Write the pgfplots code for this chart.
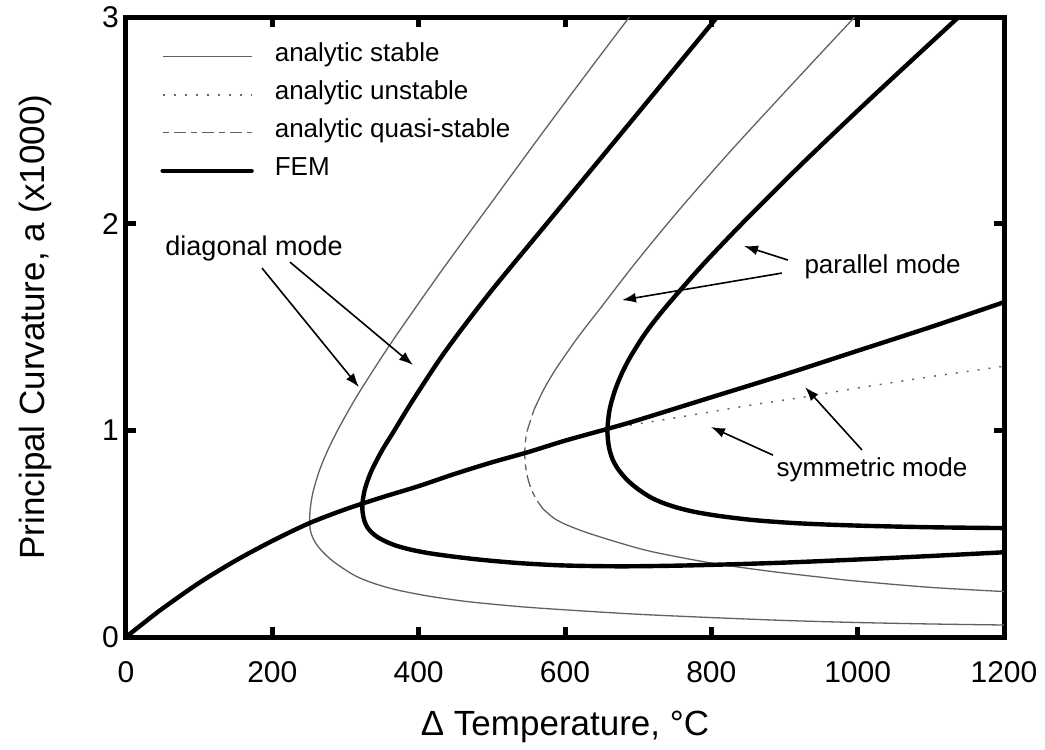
\documentclass[border=0pt]{standalone}
\usepackage{fontspec}
\setmainfont{Liberation Sans}
\usepackage{pgfplots}
\pgfplotsset{compat=1.18}
\usetikzlibrary{arrows.meta}
\tikzset{
 anstable/.style={line width=0.65pt, black!62, line join=round},
 anunstable/.style={line width=0.75pt, black!60, dash pattern=on 1pt off 4.5pt},
 anquasi/.style={line width=0.65pt, black!62, dash pattern=on 3pt off 2.5pt on 6pt off 2.5pt},
 fem/.style={line width=2.2pt, black, line join=round, line cap=round},
 ann/.style={line width=0.8pt, black, -{Latex[length=7pt,width=5pt]}},
}
\begin{document}
\begin{tikzpicture}
\path[use as bounding box] (-63pt,-56.5pt) rectangle (459.5pt,318.5pt);
\begin{axis}[
 at={(0,0)}, anchor=south west,
 scale only axis, width=439pt, height=310pt,
 xmin=0, xmax=1200, ymin=0, ymax=3,
 xtick={0,200,...,1200}, ytick={0,1,2,3},
 xtick pos=both, ytick pos=both,
 tick align=inside,
 major tick length=5pt,
 every tick/.style={line width=2.5pt, black},
 axis line style={line width=2.5pt},
 /pgf/number format/assume math mode=true,
 /pgf/number format/1000 sep={},
 tick label style={font=\fontsize{15}{15}\selectfont},
 xticklabel style={yshift=-8.5pt},
 xlabel={Δ Temperature, °C},
 ylabel={Principal Curvature, a (x1000)},
 label style={font=\fontsize{17.5}{17.5}\selectfont},
 xlabel style={at={(axis description cs:0.5,-0.145)}, anchor=center},
 ylabel style={at={(axis description cs:-0.1036,0.5)}, anchor=center},
 legend cell align=left,
 legend image code/.code={\draw[#1] (0pt,-1pt) -- (44.5pt,-1pt);},
 legend style={at={(axis cs:46.5,2.882)}, anchor=north west, draw=none, fill=none,
   font=\fontsize{13}{13}\selectfont, inner sep=0pt, row sep=6pt, column sep=10.5pt,
   nodes={inner sep=0pt, text height=10pt, text depth=3pt}},
]
\addlegendimage{anstable}
\addlegendentry{analytic stable}
\addlegendimage{anunstable}
\addlegendentry{analytic unstable}
\addlegendimage{anquasi}
\addlegendentry{analytic quasi-stable}
\addlegendimage{fem}
\addlegendentry{FEM}

% analytic symmetric, stable part (under FEM)
\addplot[anstable, smooth, forget plot] coordinates {
(0,0) (25,0.07) (50,0.138) (100,0.262) (150,0.37) (200,0.465) (250,0.55) (300,0.618) (350,0.676) (400,0.73) (450,0.79) (500,0.845) (550,0.895) (600,0.95) (659,1.008)};
% analytic symmetric, unstable part
\addplot[anunstable, forget plot] coordinates {
(659,1.008) (750,1.06) (850,1.12) (925,1.16) (1000,1.205) (1100,1.26) (1200,1.31)};
% analytic diagonal mode
\addplot[anstable, smooth, forget plot] coordinates {
(688,3.0) (624,2.7) (561,2.4) (499,2.1) (437,1.8) (397,1.6) (358,1.4) (321.6,1.2) (304.8,1.1) (289.2,1.0) (275.3,0.9) (263.8,0.8) (255.5,0.7) (251.8,0.62) (251,0.56) (252,0.515) (256,0.475) (262,0.44) (270,0.408) (280,0.375) (295,0.336) (315,0.293) (340,0.258) (370,0.228) (415,0.197) (470,0.17) (545,0.145) (620,0.127) (700,0.11) (800,0.094) (900,0.08) (1000,0.07) (1100,0.063) (1200,0.058)};
% analytic parallel mode: stable upper
\addplot[anstable, smooth, forget plot] coordinates {
(996,3.0) (917,2.7) (826,2.35) (752,2.05) (694,1.8) (650.4,1.6) (617.6,1.45) (588.1,1.3) (571.3,1.2) (557.7,1.1)};
% analytic parallel mode: quasi-stable
\addplot[anquasi, smooth, forget plot] coordinates {
(557.7,1.1) (548.6,1.0) (546.1,0.95) (545,0.89) (546,0.83) (549,0.77) (554,0.715) (561,0.665) (570,0.62)};
% analytic parallel mode: stable lower
\addplot[anstable, smooth, forget plot] coordinates {
(570,0.62) (584,0.577) (600,0.546) (630,0.505) (675,0.455) (720,0.412) (800,0.358) (880,0.318) (948,0.29) (1000,0.27) (1100,0.24) (1200,0.22)};

% FEM symmetric
\addplot[fem, smooth, forget plot] coordinates {
(0,0) (25,0.07) (50,0.138) (100,0.262) (150,0.37) (200,0.465) (250,0.55) (300,0.618) (350,0.676) (400,0.73) (450,0.79) (500,0.845) (550,0.895) (600,0.95) (659,1.008) (700,1.05) (800,1.16) (900,1.27) (1000,1.385) (1100,1.50) (1200,1.62)};
% FEM diagonal
\addplot[fem, smooth, forget plot] coordinates {
(808,3.0) (726.5,2.65) (645,2.3) (575,2.0) (505,1.7) (461,1.5) (430,1.35) (402,1.2) (384,1.1) (366.9,1.0) (349.5,0.9) (335,0.8) (326.9,0.72) (323.6,0.66) (323,0.62) (324,0.59) (326,0.56) (330,0.53) (336,0.505) (344,0.483) (355,0.462) (370,0.441) (390,0.422) (415,0.405) (450,0.388) (490,0.372) (540,0.357) (600,0.346) (675,0.342) (750,0.345) (820,0.351) (900,0.36) (1000,0.375) (1100,0.392) (1200,0.41)};
% FEM parallel
\addplot[fem, smooth, forget plot] coordinates {
(1138,3.0) (1016,2.6) (924,2.29) (853,2.04) (820,1.92) (788,1.8) (758,1.68) (738.5,1.6) (727,1.55) (716,1.5) (706,1.45) (697,1.4) (688.5,1.35) (681,1.3) (674.5,1.25) (669,1.2) (664.5,1.15) (661,1.1) (659,1.05) (658,0.99) (660,0.92) (665,0.86) (673,0.81) (685,0.76) (700,0.715) (720,0.67) (745,0.635) (775,0.607) (812,0.585) (860,0.565) (920,0.55) (1000,0.539) (1100,0.531) (1200,0.527)};

% annotations
\node[font=\fontsize{13.5}{13.5}\selectfont] at (axis cs:175,1.882) {diagonal mode};
\node[font=\fontsize{13}{13}\selectfont] at (axis cs:1034,1.79) {parallel mode};
\node[font=\fontsize{13}{13}\selectfont] at (axis cs:1019.5,0.808) {symmetric mode};
\draw[ann] (axis cs:185.9,1.785) -- (axis cs:318.4,1.209);
\draw[ann] (axis cs:224.1,1.814) -- (axis cs:392.2,1.316);
\draw[ann] (axis cs:904.7,1.824) -- (axis cs:844.6,1.892);
\draw[ann] (axis cs:896.5,1.761) -- (axis cs:677.9,1.630);
\draw[ann] (axis cs:884.2,0.880) -- (axis cs:799.5,1.016);
\draw[ann] (axis cs:1005.9,0.905) -- (axis cs:928.2,1.209);
\end{axis}
\end{tikzpicture}
\end{document}
